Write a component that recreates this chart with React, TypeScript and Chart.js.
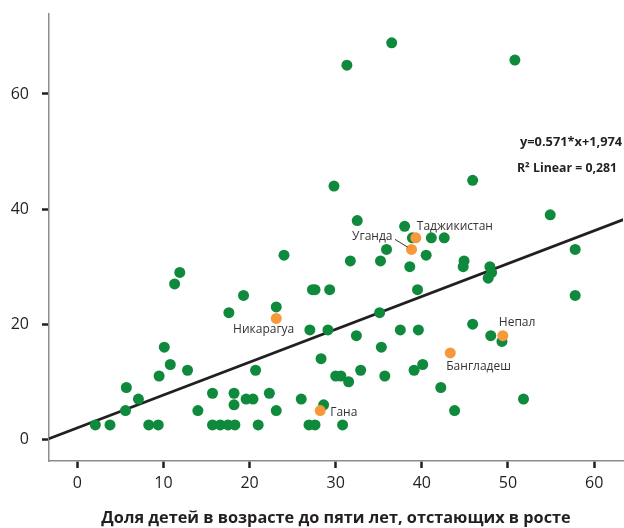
import React, { useEffect, useRef } from 'react';
import { Chart, registerables } from 'chart.js';

Chart.register(...registerables);

// ---- Data ----
const greenX = [
  36.5, 31.3, 50.8, 29.8, 45.9, 54.9, 32.5, 38.0, 38.9, 41.1, 42.6, 35.9, 40.5, 57.8,
  31.7, 35.2, 44.9, 44.8, 38.6, 47.9, 48.1, 47.7, 24.0, 11.9, 11.3, 19.3, 57.8, 27.3,
  27.6, 29.3, 39.5, 17.6, 23.1, 35.1, 45.9, 27.0, 29.1, 37.5, 39.6, 32.4, 48.0, 49.3,
  35.3, 10.1, 28.3, 40.1, 10.8, 12.8, 20.7, 32.9, 39.1, 9.5, 30.0, 30.6, 35.7, 31.5,
  5.7, 42.2, 7.1, 19.6, 20.4, 26.0, 51.8, 15.7, 18.2, 22.3, 18.2, 28.6, 5.6, 14.0,
  23.1, 43.8, 2.1, 3.8, 8.3, 9.4, 15.7, 16.6, 17.5, 18.3, 21.0, 26.9, 27.6, 30.8,
];
const greenY = [
  68.9, 65.0, 65.9, 44.0, 45.0, 39.0, 38.0, 37.0, 35.0, 35.0, 35.0, 33.0, 32.0, 33.0,
  31.0, 31.0, 31.0, 30.0, 30.0, 30.0, 29.0, 28.0, 32.0, 29.0, 27.0, 25.0, 25.0, 26.0,
  26.0, 26.0, 26.0, 22.0, 23.0, 22.0, 20.0, 19.0, 19.0, 19.0, 19.0, 18.0, 18.0, 17.0,
  16.0, 16.0, 14.0, 13.0, 13.0, 12.0, 12.0, 12.0, 12.0, 11.0, 11.0, 11.0, 11.0, 10.0,
  9.0, 9.0, 7.0, 7.0, 7.0, 7.0, 7.0, 8.0, 8.0, 8.0, 6.0, 6.0, 5.0, 5.0,
  5.0, 5.0, 2.5, 2.5, 2.5, 2.5, 2.5, 2.5, 2.5, 2.5, 2.5, 2.5, 2.5, 2.5,
];

const countryNames = ['Таджикистан', 'Уганда', 'Никарагуа', 'Непал', 'Бангладеш', 'Гана'];
const countryX = [39.3, 38.8, 23.1, 49.4, 43.3, 28.2];
const countryY = [35.0, 33.0, 21.0, 18.0, 15.0, 5.0];

const xTicks = [0, 10, 20, 30, 40, 50, 60];
const yTicks = [0, 20, 40, 60];

const slope = 0.571;
const intercept = 1.974;
const trendX = [-3.3, 63.4];

const xTitle = 'Доля детей в возрасте до пяти лет, отстающих в росте';
const equationText = 'y=0.571*x+1,974';
const r2Text = 'R² Linear = 0,281';

// ---- Styling ----
const FONT = '"Open Sans", "Noto Sans", sans-serif';
const GREEN = '#0f8a3c';
const ORANGE = '#f7983a';
const DARK = '#231f20';

const labelStyle: Record<string, { dx: number; dy: number; align: CanvasTextAlign; leader?: number[] }> = {
  'Таджикистан': { dx: 1, dy: -11.5, align: 'left' },
  'Уганда': { dx: -19, dy: -13, align: 'right', leader: [-16.5, -10, -4, -2.3] },
  'Никарагуа': { dx: 18, dy: 11, align: 'right' },
  'Непал': { dx: -4, dy: -13.5, align: 'left' },
  'Бангладеш': { dx: -4, dy: 14, align: 'left' },
  'Гана': { dx: 10, dy: 2.5, align: 'left' },
};

const annotationPlugin = {
  id: 'annotations',
  afterDatasetsDraw(chart: any) {
    const { ctx, chartArea, scales } = chart;
    ctx.save();
    ctx.textBaseline = 'middle';
    ctx.fillStyle = '#333333';
    ctx.font = `12px ${FONT}`;
    countryNames.forEach((name, i) => {
      const px = scales.x.getPixelForValue(countryX[i]);
      const py = scales.y.getPixelForValue(countryY[i]);
      const st = labelStyle[name];
      ctx.textAlign = st.align;
      ctx.fillText(name, px + st.dx, py + st.dy);
      if (st.leader) {
        ctx.beginPath();
        ctx.strokeStyle = '#333333';
        ctx.lineWidth = 1;
        ctx.moveTo(px + st.leader[0], py + st.leader[1]);
        ctx.lineTo(px + st.leader[2], py + st.leader[3]);
        ctx.stroke();
      }
    });
    ctx.fillStyle = DARK;
    ctx.font = `bold 12.8px ${FONT}`;
    ctx.textAlign = 'left';
    ctx.fillText(equationText, chartArea.right - 103, 142);
    ctx.font = `bold 12.3px ${FONT}`;
    ctx.fillText(r2Text, chartArea.right - 106, 168);
    ctx.restore();
  },
};

export default function App() {
  const canvasRef = useRef<HTMLCanvasElement | null>(null);

  useEffect(() => {
    if (!canvasRef.current) return;
    const green = greenX.map((x, i) => ({ x, y: greenY[i] }));
    const orange = countryX.map((x, i) => ({ x, y: countryY[i] }));
    const trend = trendX.map((x) => ({ x, y: slope * x + intercept }));

    const chart = new Chart(canvasRef.current, {
      type: 'scatter',
      data: {
        datasets: [
          {
            label: 'highlight',
            data: orange,
            backgroundColor: ORANGE,
            borderWidth: 0,
            pointRadius: 5.5,
          },
          {
            label: 'countries',
            data: green,
            backgroundColor: GREEN,
            borderWidth: 0,
            pointRadius: 5.5,
          },
          {
            type: 'line',
            label: 'trend',
            data: trend,
            borderColor: DARK,
            borderWidth: 2.8,
            pointRadius: 0,
            fill: false,
          } as any,
        ],
      },
      options: {
        animation: false,
        responsive: true,
        maintainAspectRatio: false,
        devicePixelRatio: 1,
        layout: { autoPadding: false, padding: { top: 14, right: 1, left: 0, bottom: 0 } },
        plugins: {
          legend: { display: false },
          tooltip: { enabled: false },
        },
        scales: {
          x: {
            type: 'linear',
            min: -3.28,
            max: 63.35,
            afterBuildTicks: (s: any) => {
              s.ticks = xTicks.map((v) => ({ value: v }));
            },
            afterFit: (s: any) => {
              s.height = 67;
              s.paddingLeft = 0;
              s.paddingRight = 0;
            },
            grid: {
              drawOnChartArea: false,
              drawTicks: true,
              tickLength: 7,
              tickColor: DARK,
              tickWidth: 2.5,
            },
            border: { display: true, color: '#8c8c8c', width: 1.5 },
            ticks: {
              color: DARK,
              font: { family: FONT, size: 16 },
              padding: 6,
              maxRotation: 0,
              autoSkip: false,
            },
            title: {
              display: true,
              text: xTitle,
              color: DARK,
              font: { family: FONT, size: 16.3, weight: 'bold' },
              padding: { top: 0, bottom: 0 },
            },
          },
          y: {
            type: 'linear',
            min: -3.77,
            max: 73.9,
            afterBuildTicks: (s: any) => {
              s.ticks = yTicks.map((v) => ({ value: v }));
            },
            afterFit: (s: any) => {
              s.width = 49;
              s.paddingTop = 0;
              s.paddingBottom = 0;
            },
            grid: {
              drawOnChartArea: false,
              drawTicks: true,
              tickLength: 7,
              tickColor: DARK,
              tickWidth: 2.5,
            },
            border: { display: true, color: '#8c8c8c', width: 1.5 },
            ticks: {
              color: DARK,
              font: { family: FONT, size: 16 },
              padding: 13,
            },
          },
        },
      },
      plugins: [annotationPlugin],
    });
    return () => chart.destroy();
  }, []);

  return (
    <div style={{ position: 'absolute', left: 0, top: 0, width: 624, height: 528, background: '#ffffff' }}>
      <canvas ref={canvasRef} />
    </div>
  );
}
